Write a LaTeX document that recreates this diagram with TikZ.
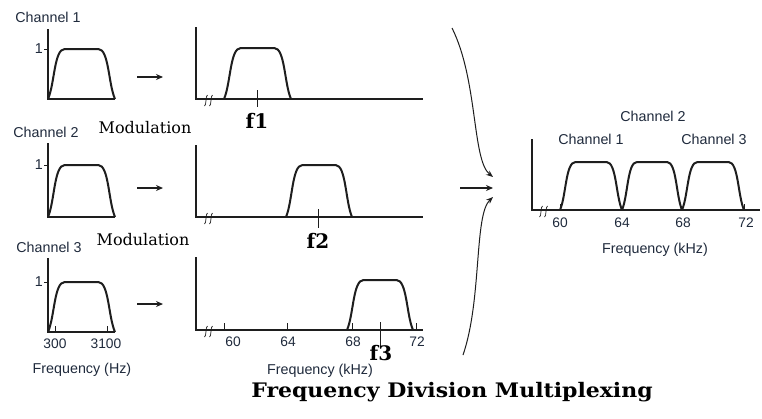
\documentclass[tikz,border=0pt]{standalone}
\usepackage{fontspec}
\setmainfont{DejaVu Serif}
\newfontfamily\labelsans{Liberation Sans}
\usetikzlibrary{arrows.meta}

\definecolor{ink}{HTML}{1E1E1E}
\definecolor{txt}{HTML}{1F2A3C}

\tikzset{
  axisline/.style={draw=ink, line width=1.1pt},
  pulseline/.style={draw=ink, line width=2pt, line join=round},
  tickline/.style={draw=ink, line width=0.9pt},
  sanslabel/.style={font=\labelsans\fontsize{14.3}{16}\selectfont, text=txt, inner sep=0pt},
  ticklabel/.style={font=\labelsans\fontsize{13.8}{15}\selectfont, text=txt, inner sep=0pt},
  modlabel/.style={font=\fontsize{16}{18}\selectfont, inner sep=0pt},
  flabel/.style={font=\bfseries\fontsize{20}{22}\selectfont, inner sep=0pt},
  titlelabel/.style={font=\bfseries\fontsize{20}{22}\selectfont, inner sep=0pt},
  flow/.style={draw=ink, line width=1pt, -{Stealth[length=7pt,width=5.5pt]}},
  modflow/.style={draw=ink, line width=1.3pt, -{Stealth[length=7pt,width=6pt]}},
}

% flat-topped band: left x, right x, base y, top y
\newcommand\pulse[4]{%
  \pgfmathsetmacro\pw{#2-#1}%
  \pgfmathsetmacro\ph{#3-#4}%
  \draw[pulseline] (#1,#3)
    .. controls ({#1+0.1*\pw},{#3-0.3*\ph}) and ({#1+0.09*\pw},#4) .. ({#1+0.25*\pw},#4)
    -- ({#2-0.25*\pw},#4)
    .. controls ({#2-0.09*\pw},#4) and ({#2-0.1*\pw},{#3-0.3*\ph}) .. (#2,#3);}

% axis break mark: x, y
\newcommand\axisbreak[2]{%
  \foreach \d in {0,5} {%
    \draw[ink, line width=0.7pt] ({#1+\d-1.5},{#2+7})
      .. controls ({#1+\d+0.5},{#2+7}) and ({#1+\d-0.5},{#2-4}) .. ({#1+\d+1.5},{#2-4});}}

\begin{document}
\begin{tikzpicture}[x=1pt,y=-1pt]
\useasboundingbox (0,0) rectangle (762,418);
\fill[white] (0,0) rectangle (762,418);

% ---------- baseband channels ----------
\node[sanslabel] (ch1) at (48,17) {Channel 1};
\draw[axisline] (48,29) -- (48,99) -- (115,99);
\draw[tickline] (44,49) -- (48,49);
\node[sanslabel, anchor=east] (one1) at (43,49) {1};
\pulse{48}{115}{99}{49}

\node[sanslabel] (ch2) at (46,132) {Channel 2};
\draw[axisline] (48,143) -- (48,217) -- (115,217);
\draw[tickline] (44,165) -- (48,165);
\node[sanslabel, anchor=east] (one2) at (43,165) {1};
\pulse{48}{115}{217}{165}

\node[sanslabel] (ch3) at (49,247) {Channel 3};
\draw[axisline] (48,258) -- (48,332) -- (115,332);
\draw[tickline] (44,282) -- (48,282);
\node[sanslabel, anchor=east] (one3) at (43,282) {1};
\pulse{48}{115}{332}{282}
\draw[tickline] (55,332) -- (55,326);
\draw[tickline] (107,332) -- (107,326);
\node[ticklabel] (lo) at (55,344) {300};
\node[ticklabel] (hi) at (106,344) {3100};
\node[sanslabel] (fhz) at (82,370) {Frequency (Hz)};

% ---------- modulation arrows ----------
\coordinate (a1s) at (137,77);  \coordinate (a1e) at (163,77);
\coordinate (a2s) at (137,188); \coordinate (a2e) at (163,188);
\coordinate (a3s) at (137,304); \coordinate (a3e) at (163,304);
\draw[modflow] (a1s) -- (a1e);
\draw[modflow] (a2s) -- (a2e);
\draw[modflow] (a3s) -- (a3e);
\node[modlabel] (mod1) at (145,128) {Modulation};
\node[modlabel] (mod2) at (143,240) {Modulation};

% ---------- shifted channels ----------
\draw[axisline] (196,27) -- (196,99) -- (423,99);
\axisbreak{206}{99}
\pulse{224}{291}{99}{48}
\draw[tickline] (257,90) -- (257,107);
\node[flabel] (f1) at (257,121) {f1};

\draw[axisline] (196,145) -- (196,217) -- (423,217);
\axisbreak{206}{217}
\pulse{286}{352}{217}{165}
\draw[tickline] (318,209) -- (318,228);
\node[flabel] (f2) at (318,241) {f2};

\draw[axisline] (196,257) -- (196,330) -- (423,330);
\axisbreak{206}{330}
\pulse{347}{413}{330}{280}
\foreach \tx in {224,287,352,416} \draw[tickline] (\tx,330) -- (\tx,323);
\draw[tickline] (380,322) -- (380,347);
\node[flabel] (f3) at (381,353) {f3};
\node[ticklabel] (m60) at (233,342) {60};
\node[ticklabel] (m64) at (288,342) {64};
\node[ticklabel] (m68) at (353,342) {68};
\node[ticklabel] (m72) at (417,342) {72};
\node[sanslabel] (fkhz) at (320,371) {Frequency (kHz)};

% ---------- combining arrows ----------
\coordinate (c1s) at (452,28);  \coordinate (hub1) at (493,177);
\coordinate (c2s) at (460,188); \coordinate (hub2) at (493,188);
\coordinate (c3s) at (463,355); \coordinate (hub3) at (493,197);
\draw[flow] (c1s) .. controls (478,80) and (472,160) .. (hub1);
\draw[modflow] (c2s) -- (hub2);
\draw[flow] (c3s) .. controls (482,300) and (474,215) .. (hub3);

% ---------- multiplexed band ----------
\draw[axisline] (532,139) -- (532,210) -- (760,210);
\axisbreak{541}{210}
\pulse{560}{622}{210}{162}
\pulse{622}{682}{210}{162}
\pulse{682}{744}{210}{162}
\draw[tickline] (560,210) -- (560,204);
\draw[tickline] (744,210) -- (744,204);
\node[sanslabel] (rc2) at (653,116) {Channel 2};
\node[sanslabel] (rc1) at (591,139) {Channel 1};
\node[sanslabel] (rc3) at (714,139) {Channel 3};
\node[ticklabel] (r60) at (560,223) {60};
\node[ticklabel] (r64) at (622,223) {64};
\node[ticklabel] (r68) at (683,223) {68};
\node[ticklabel] (r72) at (746,223) {72};
\node[sanslabel] (rkhz) at (655,250) {Frequency (kHz)};

% ---------- caption ----------
\node[titlelabel] (title) at (452,392) {\scalebox{1.1}[1]{Frequency Division Multiplexing}};
\end{tikzpicture}
\end{document}
